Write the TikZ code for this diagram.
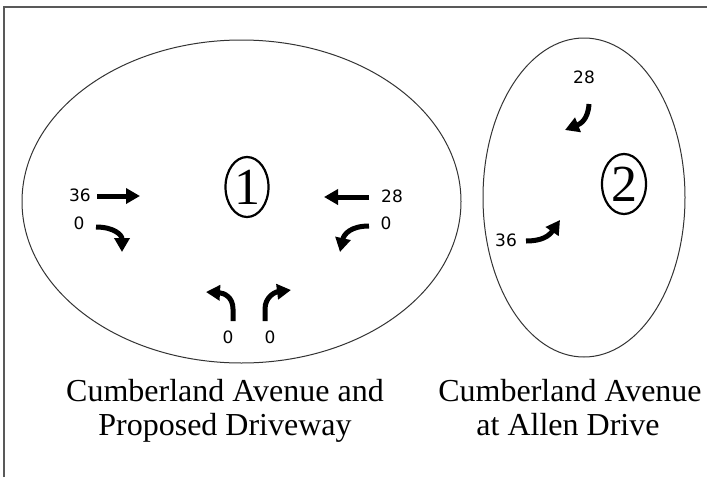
\documentclass[tikz,border=0pt]{standalone}
\usepackage{fontspec}
\setmainfont{Liberation Serif}
\newfontfamily\numfont{DejaVu Sans}
\usetikzlibrary{arrows.meta}
\tikzset{
  frameline/.style={draw=black!65, line width=1.5pt},
  zone/.style={draw=black!80, line width=1pt},
  vol/.style={font=\numfont\fontsize{17}{17}\selectfont, inner sep=0pt},
  mvt/.style={line width=5pt, -{Triangle[length=14pt,width=15pt]}},
  caption/.style={font=\fontsize{32}{32}\selectfont, inner sep=0pt, anchor=base},
  bignum/.style={font=\fontsize{52}{52}\selectfont, inner sep=0pt},
}
\begin{document}
\begin{tikzpicture}[x=1pt,y=-1pt]
\useasboundingbox (0,0) rectangle (707,477);
% frame
\draw[frameline] (4,477) -- (4,7) -- (707,7);
% zones
\draw[zone] (241.5,201.5) ellipse [x radius=219.5, y radius=161.5];
\draw[zone] (584,197.5) ellipse [x radius=101, y radius=159.5];
% circled numbers
\draw[line width=2.2pt] (247,187) ellipse [x radius=21.5, y radius=30];
\node[bignum] (n1) at (247,187) {1};
\draw[line width=2.2pt] (624,184) ellipse [x radius=22, y radius=30];
\node[bignum] (n2) at (624,184) {2};
% intersection 1 volumes
\node[vol] (v36) at (80,195) {36};
\node[vol] (v0a) at (79,223) {0};
\node[vol] (v28) at (392,196) {28};
\node[vol] (v0b) at (386,223) {0};
\node[vol] (v0c) at (228,337) {0};
\node[vol] (v0d) at (270,337) {0};
% intersection 1 movements
\coordinate (a1s) at (97,196);  \coordinate (a1e) at (140,196);
\draw[mvt] (a1s) -- (a1e);
\coordinate (a2s) at (96,227);  \coordinate (a2e) at (122,252);
\draw[mvt] (a2s) .. controls (114,227) and (122,235) .. (a2e);
\coordinate (a3s) at (369,197); \coordinate (a3e) at (324,197);
\draw[mvt] (a3s) -- (a3e);
\coordinate (a4s) at (369,226); \coordinate (a4e) at (340,252);
\draw[mvt] (a4s) .. controls (351,226) and (344,234) .. (a4e);
\coordinate (a5s) at (233,321); \coordinate (a5e) at (206,292);
\draw[mvt] (a5s) -- (233,309) .. controls (233,297) and (224,293) .. (a5e);
\coordinate (a6s) at (265,321); \coordinate (a6e) at (291,290);
\draw[mvt] (a6s) -- (265,309) .. controls (265,297) and (275,292) .. (a6e);
% intersection 2
\node[vol] (w28) at (584,77) {28};
\node[vol] (w36) at (506,240) {36};
\coordinate (b1s) at (589,104); \coordinate (b1e) at (565,130);
\draw[mvt] (b1s) .. controls (588,120) and (580,124) .. (b1e);
\coordinate (b2s) at (526,241); \coordinate (b2e) at (560,220);
\draw[mvt] (b2s) .. controls (542,241) and (549,236) .. (b2e);
% captions
\node[caption] (c1a) at (225,401) {Cumberland Avenue and};
\node[caption] (c1b) at (225,435) {Proposed Driveway};
\node[caption] (c2a) at (570,401) {Cumberland Avenue};
\node[caption] (c2b) at (568,435) {at Allen Drive};
\end{tikzpicture}
\end{document}
